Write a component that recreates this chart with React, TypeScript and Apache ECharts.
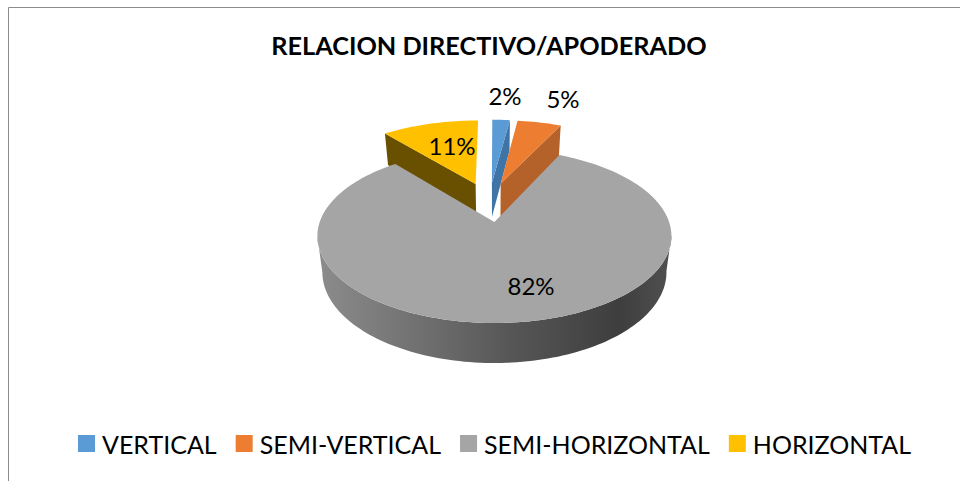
import React, { useEffect, useRef } from "react";
import * as echarts from "echarts";

const titleText = "RELACION DIRECTIVO/APODERADO";
const categories = ["VERTICAL", "SEMI-VERTICAL", "SEMI-HORIZONTAL", "HORIZONTAL"];
const values = [2, 5, 82, 11];
const topColors = ["#5B9BD5", "#ED7D31", "#A5A5A5", "#FFC000"];
const sideColors = ["#3F74A6", "#B4622A", "#6E6E6E", "#695000"];
const labelAnchors = [[505, 95], [563, 98], [531, 285], [452, 145]];

const FONT = "Lato, Carlito, 'Open Sans', sans-serif";
const total = values.reduce((a, b) => a + b, 0);

// Perspective model of the pie plane: unit radius, v pointing away from the viewer.
const K = 0.161;
const project = (u: number, v: number) => {
  const w = 1 + K * v;
  return [494.7 + (174.7 * u) / w, 222 - (84.75 * v) / w];
};
const projectLow = (u: number, v: number) => {
  const w = 1 + K * v;
  const p = project(u, v);
  return [495 + (p[0] - 495) * 0.972, p[1] + 35.5 / Math.pow(w, 0.68)];
};
const CENTER = [-0.033, 0.248];
const EXPLODE = 0.25;
const rad = (share: number) => (share / total) * Math.PI * 2;

function renderSlice(index: number) {
  return (_params: any, api: any) => {
    const value = api.value(0);
    const before = values.slice(0, index).reduce((a, b) => a + b, 0);
    const a0 = rad(before);
    const a1 = rad(before + value);
    const mid = (a0 + a1) / 2;
    const tu = CENTER[0] + EXPLODE * Math.sin(mid);
    const tv = CENTER[1] + EXPLODE * Math.cos(mid);
    const steps = Math.max(6, Math.round(((a1 - a0) / Math.PI) * 120));
    const rim: number[][] = [];
    for (let s = 0; s <= steps; s++) {
      const a = a0 + ((a1 - a0) * s) / steps;
      rim.push([tu + Math.sin(a), tv + Math.cos(a)]);
    }
    const top = rim.map(([u, v]) => project(u, v));
    const low = rim.map(([u, v]) => projectLow(u, v));
    const tipTop = project(tu, tv);
    const tipLow = projectLow(tu, tv);
    const children: any[] = [];
    if (index === 2) {
      // Outer wall: only the front of the rim, between its left and right extremes,
      // so that the silhouette runs straight from the top face to the bottom one.
      let iR = 0;
      let iL = 0;
      top.forEach((p, i) => {
        if (p[0] > top[iR][0]) iR = i;
        if (p[0] < top[iL][0]) iL = i;
      });
      children.push({
        type: "polygon",
        shape: { points: [...top.slice(iR, iL + 1), ...low.slice(iR, iL + 1).reverse()] },
        style: {
          fill: {
            type: "linear", x: 0, y: 0, x2: 1, y2: 0,
            colorStops: [
              { offset: 0, color: "#8C8C8C" },
              { offset: 0.25, color: "#747474" },
              { offset: 0.55, color: "#565656" },
              { offset: 0.85, color: "#3E3E3E" },
              { offset: 1, color: "#505050" },
            ],
          },
        },
      });
    } else {
      // The one radial wall that faces the viewer.
      const edge = index === 3 ? 0 : rim.length - 1;
      children.push({
        type: "polygon",
        shape: { points: [tipTop, top[edge], low[edge], tipLow] },
        style: { fill: sideColors[index] },
      });
    }
    children.push({
      type: "polygon",
      shape: { points: [tipTop, ...top] },
      style: { fill: topColors[index] },
    });
    children.push({
      type: "text",
      x: labelAnchors[index][0],
      y: labelAnchors[index][1],
      style: {
        text: `${value}%`,
        fill: "#000000",
        font: `24px ${FONT}`,
        textAlign: "center",
        textVerticalAlign: "middle",
      },
      z2: 10,
    });
    return { type: "group", children };
  };
}

export default function App() {
  const ref = useRef<HTMLDivElement>(null);
  useEffect(() => {
    document.body.style.margin = "0";
    const chart = echarts.init(ref.current!, undefined, { renderer: "svg" });
    chart.setOption({
      animation: false,
      backgroundColor: "#FFFFFF",
      title: {
        text: titleText,
        left: 489,
        top: 32,
        padding: 0,
        textAlign: "center",
        textStyle: { fontFamily: FONT, fontWeight: "bold", fontSize: 25.25, color: "#000000" },
      },
      legend: {
        data: categories,
        left: 78,
        top: 431,
        padding: 0,
        icon: "rect",
        itemWidth: 17,
        itemHeight: 17,
        itemGap: 19,
        textStyle: { fontFamily: FONT, fontSize: 25, color: "#000000", padding: [0, 0, 0, 2] },
      },
      graphic: [
        {
          type: "rect",
          shape: { x: 8.5, y: 7.5, width: 1000, height: 600 },
          style: { fill: "none", stroke: "#8C8C8C", lineWidth: 1 },
          silent: true,
          z: -1,
        },
      ],
      series: categories.map((name, i) => ({
        type: "custom",
        name,
        coordinateSystem: "none",
        data: [[values[i]]],
        itemStyle: { color: topColors[i] },
        renderItem: renderSlice(i),
        silent: true,
        z: i === 2 ? 3 : 2,
      })),
    });
    return () => chart.dispose();
  }, []);
  return <div ref={ref} style={{ width: 960, height: 481 }} />;
}
